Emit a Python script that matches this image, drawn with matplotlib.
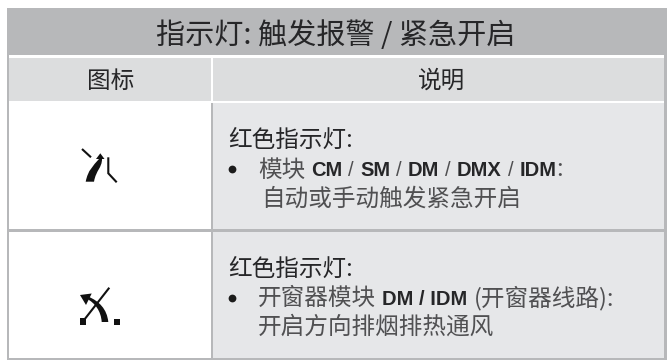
import matplotlib
matplotlib.use('Agg')
import matplotlib.pyplot as plt
from matplotlib.patches import Rectangle, PathPatch, Polygon
from matplotlib.path import Path

CJK = ['Noto Sans CJK SC', 'DejaVu Sans']
LATIN = ['Liberation Sans', 'DejaVu Sans']

title = '指示灯: 触发报警 / 紧急开启'
head_left = '图标'
head_right = '说明'
row1_head = '红色指示灯:'
row1_line1 = [('模块 ', 0), ('CM', 1), (' / ', 0), ('SM', 1), (' / ', 0), ('DM', 1), (' / ', 0),
              ('DMX', 1), (' / ', 0), ('IDM', 1), (':', 0)]
row1_line2 = '自动或手动触发紧急开启'
row2_head = '红色指示灯:'
row2_line1 = [('开窗器模块 ', 0), ('DM / IDM', 1), (' (开窗器线路):', 0)]
row2_line2 = '开启方向排烟排热通风'

LINE = '#b7b8ba'
DARK = '#262628'
BODY = '#505052'
SPACE = 6


def put(ax, x, y, parts, size):
    # lays out mixed bold latin / light chinese pieces one after the other
    r = ax.figure.canvas.get_renderer()
    for s, bold in parts:
        x += SPACE * (len(s) - len(s.lstrip(' ')))
        if bold:
            t = ax.text(x, y, s.strip(' '), family=LATIN, weight='bold', size=14.5, color=DARK,
                        va='baseline')
        elif s.strip(' ') == '/':
            t = ax.text(x, y, '/', family=LATIN, size=14.5, color=BODY, va='baseline')
        else:
            t = ax.text(x, y, s.strip(' '), family=CJK, weight='light', size=size, color=BODY,
                        va='baseline')
        x += t.get_window_extent(r).width
        x += SPACE * (len(s) - len(s.rstrip(' ')))


fig = plt.figure(figsize=(6.67, 3.6), dpi=100)
ax = fig.add_axes([0, 0, 1, 1])
ax.set_xlim(0, 667)
ax.set_ylim(360, 0)
ax.axis('off')
fig.canvas.draw()

# table background
ax.add_patch(Rectangle((6.7, 8), 660, 352, fc=LINE, ec='none'))
ax.add_patch(Rectangle((9, 55), 655, 48.3, fc='white', ec='none'))
ax.add_patch(Rectangle((9, 57.7), 202, 43.3, fc='#dcddde', ec='none'))
ax.add_patch(Rectangle((213.3, 57.7), 450.7, 43.3, fc='#dcddde', ec='none'))
ax.add_patch(Rectangle((9, 103.3), 202, 125.7, fc='white', ec='none'))
ax.add_patch(Rectangle((9, 231.7), 202, 126.6, fc='white', ec='none'))
ax.add_patch(Rectangle((213.3, 103.3), 450.7, 125.7, fc='#e6e7e9', ec='none'))
ax.add_patch(Rectangle((213.3, 231.7), 450.7, 126.6, fc='#e6e7e9', ec='none'))

# header
ax.text(335.5, 36, title, family=CJK, size=21, color=DARK, ha='center', va='center')
ax.text(110.5, 81.5, head_left, family=CJK, size=17, color=DARK, ha='center', va='center')
ax.text(442, 81.5, head_right, family=CJK, size=17, color=DARK, ha='center', va='center')

# first row
ax.text(228, 146.5, row1_head, family=CJK, size=17, color=DARK, va='baseline')
ax.plot([232], [169], 'o', ms=5.6, mew=0, color='#1c1c1c')
put(ax, 258, 176.5, row1_line1, 17)
ax.text(261, 205.5, row1_line2, family=CJK, weight='light', size=17, color=BODY, va='baseline')

# second row
ax.text(228, 275.5, row2_head, family=CJK, size=17, color=DARK, va='baseline')
ax.plot([232], [297.5], 'o', ms=5.6, mew=0, color='#1c1c1c')
put(ax, 258, 305, row2_line1, 17)
ax.text(258, 333.5, row2_line2, family=CJK, weight='light', size=17, color=BODY, va='baseline')

# icon of the first row
ax.plot([82, 91], [149, 157.3], color='#111111', lw=1.5, solid_capstyle='butt')
ax.plot([108.3, 108.3, 116.7], [157.3, 173.3, 182.3], color='#111111', lw=1.5,
        solid_joinstyle='miter', solid_capstyle='butt')
ax.add_patch(Polygon([(100.3, 153.3), (96, 159), (104.5, 159)], fc='#111111', ec='none'))
codes = [Path.MOVETO, Path.CURVE4, Path.CURVE4, Path.CURVE4, Path.LINETO, Path.CURVE4, Path.CURVE4,
         Path.CURVE4, Path.CLOSEPOLY]
ax.add_patch(PathPatch(Path([(85.7, 181.7), (88, 170), (93, 166), (99, 159), (102, 159),
                             (102, 168), (96, 170), (94, 181.7), (85.7, 181.7)], codes),
                       fc='#111111', ec='none'))

# icon of the second row
ax.plot([82.7, 109.3], [321.7, 287.7], color='#111111', lw=1.5, solid_capstyle='butt')
ax.add_patch(Rectangle((79.5, 318.3), 6.7, 6.7, fc='#111111', ec='none'))
ax.add_patch(Rectangle((113.7, 318.5), 6.7, 6.7, fc='#111111', ec='none'))
ax.add_patch(Polygon([(80, 295), (91.7, 293.5), (86, 305)], fc='#111111', ec='none'))
ax.add_patch(PathPatch(Path([(86.5, 298.5), (95, 303), (101, 311), (101.7, 322), (108.3, 322),
                             (107, 309), (99, 301), (88, 296.5), (86.5, 298.5)], codes),
                       fc='#111111', ec='none'))

fig.savefig('out.png', dpi=100)
